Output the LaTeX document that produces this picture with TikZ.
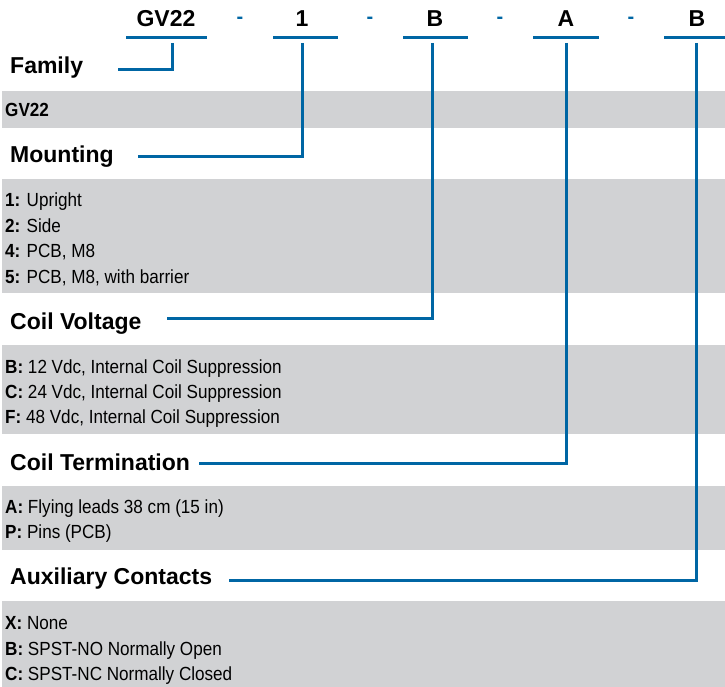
\documentclass[tikz,border=0pt]{standalone}
\usepackage{fontspec}
\setmainfont{Liberation Sans}
\newfontfamily\itemfont{Liberation Sans}[FakeStretch=0.9]
\definecolor{codeblue}{RGB}{0,102,164}
\definecolor{bandgray}{RGB}{209,210,212}
\tikzset{
  code/.style={font=\fontsize{23}{23}\selectfont\bfseries,anchor=base,inner sep=0pt},
  sep/.style={font=\fontsize{20}{20}\selectfont\bfseries,text=codeblue,anchor=base,inner sep=0pt},
  head/.style={font=\fontsize{23}{23}\selectfont\bfseries,anchor=base west,inner sep=0pt},
  item/.style={font=\itemfont\fontsize{19}{19}\selectfont,anchor=base west,inner sep=0pt},
  link/.style={codeblue,line width=3pt},
}
\begin{document}
\begin{tikzpicture}[x=1pt,y=-1pt]
  \useasboundingbox (0,0) rectangle (725,687);
  %grå bånd
  \fill[bandgray] (2,91) rectangle (725,128);
  \fill[bandgray] (2,179) rectangle (725,293);
  \fill[bandgray] (2,345) rectangle (725,434);
  \fill[bandgray] (2,486) rectangle (725,550);
  \fill[bandgray] (2,601) rectangle (725,687);
  %kode
  \node[code] (cgv) at (166,27) {GV22};
  \node[code] (cmnt) at (302,27) {1};
  \node[code] (cvlt) at (435,27) {B};
  \node[code] (ctrm) at (566,27) {A};
  \node[code] (caux) at (697,27) {B};
  \foreach \x/\n in {240/1,370/2,500/3,631/4}
    \node[sep] (s\n) at (\x,24) {-};
  %understregning
  \foreach \a/\b in {126/207,273/338,403/468,533/599,664/725}
    \draw[link] (\a,38)--(\b,38);
  %overskrifter
  \node[head] (hfam) at (10,74) {Family};
  \node[head] (hmnt) at (10,163) {Mounting};
  \node[head] (hvlt) at (10,329) {Coil Voltage};
  \node[head] (htrm) at (10,470) {Coil Termination};
  \node[head] (haux) at (10,584) {Auxiliary Contacts};
  %valg
  \node[item] (igv) at (5,117) {\textbf{GV22}};
  \node[item] (im1) at (5,207) {\textbf{1:} Upright};
  \node[item] (im2) at (5,232) {\textbf{2:} Side};
  \node[item] (im4) at (5,257) {\textbf{4:} PCB, M8};
  \node[item] (im5) at (5,283) {\textbf{5:} PCB, M8, with barrier};
  \node[item] (ivb) at (5,373) {\textbf{B:} 12 Vdc, Internal Coil Suppression};
  \node[item] (ivc) at (5,398) {\textbf{C:} 24 Vdc, Internal Coil Suppression};
  \node[item] (ivf) at (5,423) {\textbf{F:} 48 Vdc, Internal Coil Suppression};
  \node[item] (ita) at (5,513) {\textbf{A:} Flying leads 38 cm (15 in)};
  \node[item] (itp) at (5,538) {\textbf{P:} Pins (PCB)};
  \node[item] (iax) at (5,629) {\textbf{X:} None};
  \node[item] (iab) at (5,655) {\textbf{B:} SPST-NO Normally Open};
  \node[item] (iac) at (5,680) {\textbf{C:} SPST-NC Normally Closed};
  %forbindelser
  \coordinate (tgv) at (172,43);  \coordinate (egv) at (118,70);
  \coordinate (tmnt) at (302,43); \coordinate (emnt) at (138,157);
  \coordinate (tvlt) at (432,43); \coordinate (evlt) at (167,318);
  \coordinate (ttrm) at (566,43); \coordinate (etrm) at (199,463);
  \coordinate (taux) at (696,43); \coordinate (eaux) at (229,580);
  \draw[link] (tgv) |- (egv);
  \draw[link] (tmnt) |- (emnt);
  \draw[link] (tvlt) |- (evlt);
  \draw[link] (ttrm) |- (etrm);
  \draw[link] (taux) |- (eaux);
\end{tikzpicture}
\end{document}
